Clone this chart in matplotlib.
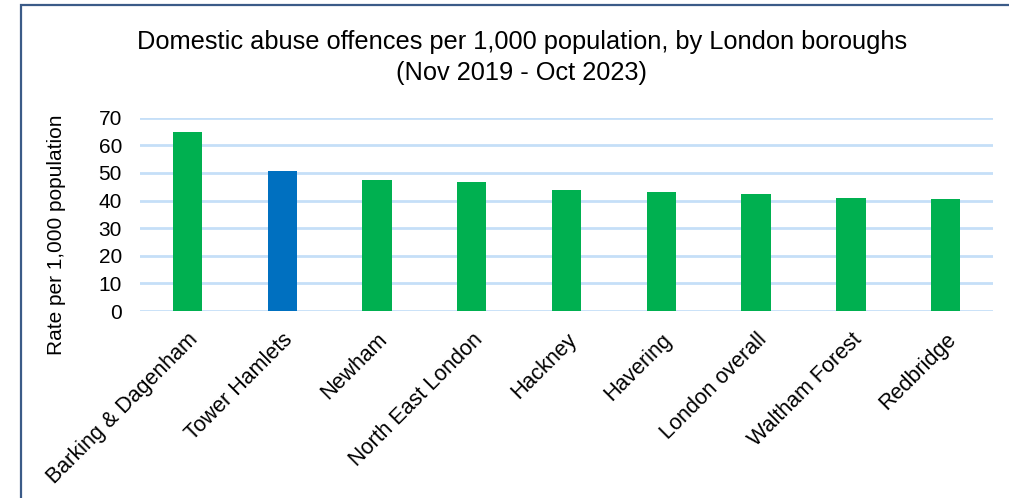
import matplotlib
matplotlib.use("Agg")
import matplotlib.pyplot as plt
from matplotlib.patches import Rectangle

# ─── DATA ─────────────────────────────────────────────────────────────────────
boroughs = [
    "Barking & Dagenham", "Tower Hamlets", "Newham", "North East London",
    "Hackney", "Havering", "London overall", "Waltham Forest", "Redbridge",
]
rates = [64.7, 50.7, 47.3, 46.8, 43.8, 43.0, 42.4, 40.8, 40.4]
highlight = "Tower Hamlets"
y_ticks = [0, 10, 20, 30, 40, 50, 60, 70]
title_lines = ["Domestic abuse offences per 1,000 population, by London boroughs",
               "(Nov 2019 - Oct 2023)"]

GREEN = "#00B050"
BLUE = "#0070C0"
GRID = "#C5DFF8"

plt.rcParams["font.family"] = ["Liberation Sans", "DejaVu Sans"]

fig = plt.figure(figsize=(10.09, 4.98), dpi=100)
ax = fig.add_axes([0.1388, 0.3755, 0.8454, 0.3882])

colors = [BLUE if b == highlight else GREEN for b in boroughs]
ax.bar(range(len(boroughs)), rates, width=0.31, color=colors, zorder=3)

ax.set_xlim(-0.5, len(boroughs) - 0.5)
ax.set_ylim(0, 70)
ax.set_yticks(y_ticks)
ax.yaxis.grid(True, color=GRID, linewidth=2, zorder=0)
ax.set_axisbelow(True)
for s in ax.spines.values():
    s.set_visible(False)
ax.tick_params(axis="both", length=0, labelsize=15)
ax.tick_params(axis="y", pad=13)

ax.set_xticks(range(len(boroughs)))
ax.set_xticklabels(boroughs, rotation=45, ha="right", va="top",
                   rotation_mode="anchor", fontsize=15.5)
ax.tick_params(axis="x", pad=13)

ax.set_ylabel("Rate per 1,000 population", fontsize=15)
ax.yaxis.set_label_coords(-0.087, 0.393)

# two-line title, placed line by line
fig.text(0.517, 1 - 42 / 498, title_lines[0], ha="center", va="center", fontsize=18.3)
fig.text(0.517, 1 - 73 / 498, title_lines[1], ha="center", va="center", fontsize=18.3)

# frame round the chart (only left and top visible in the crop)
fig.patches.append(Rectangle((21 / 1009, -0.1), 1.2, 1.1 - 5 / 498,
                             transform=fig.transFigure, fill=False,
                             edgecolor="#3B5B88", linewidth=1.6))

fig.savefig("out.png", dpi=100)
